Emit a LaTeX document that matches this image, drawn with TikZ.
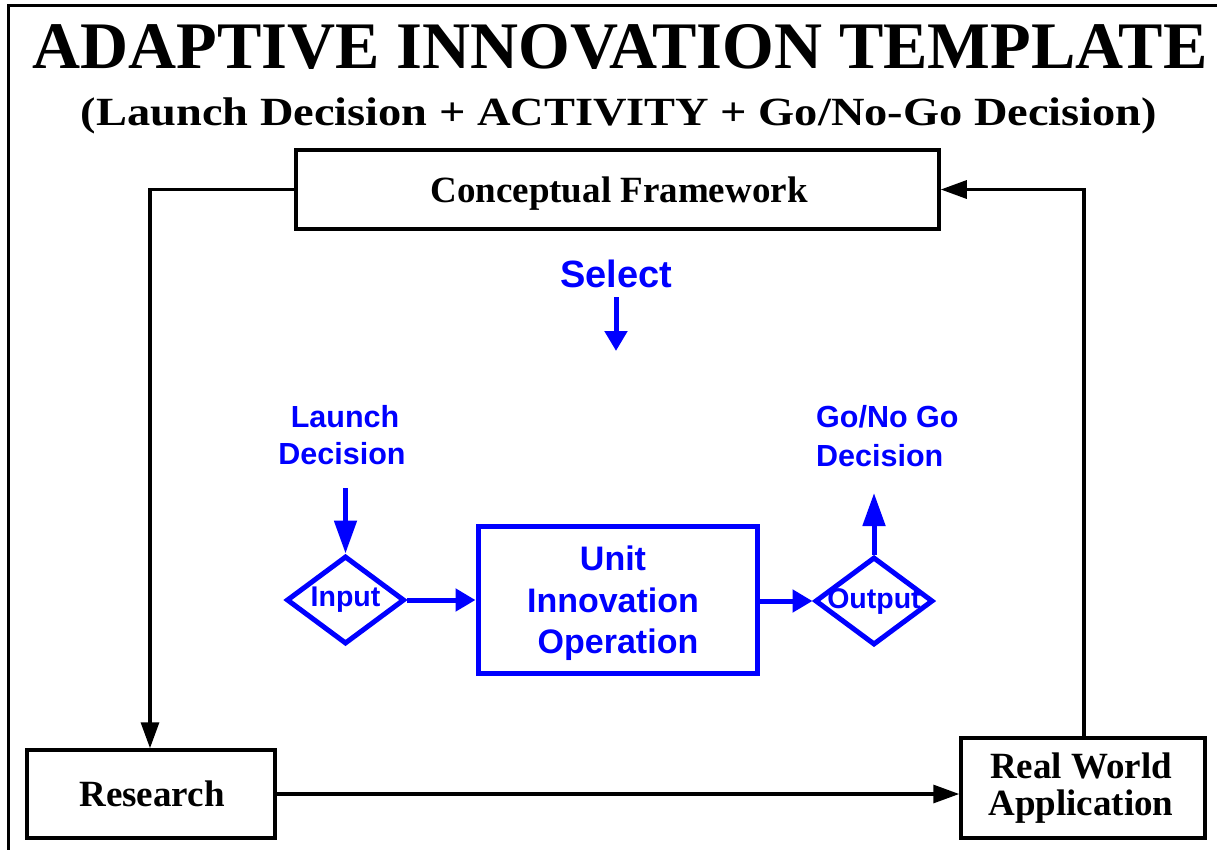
\documentclass[tikz,border=0pt]{standalone}
\usepackage{fontspec}
\setmainfont{Liberation Serif}
\newfontfamily\arialf{Liberation Sans}
\usetikzlibrary{arrows.meta,shapes.geometric}
\definecolor{pblue}{RGB}{0,0,255}
\begin{document}
\begin{tikzpicture}[x=1pt,y=-1pt,
  bbox/.style={draw=black,line width=3.5pt,fill=white,inner sep=0pt,align=center,
    font=\bfseries\fontsize{37}{37}\selectfont},
  stext/.style={anchor=base,inner sep=0pt,font=\bfseries\fontsize{37}{37}\selectfont},
  blk/.style={line width=3.2pt,-{Triangle[length=26pt,width=18pt]}},
  btext/.style={text=pblue,inner sep=0pt,font=\arialf\bfseries\fontsize{30.5}{37}\selectfont},
  dtext/.style={text=pblue,inner sep=0pt,font=\arialf\bfseries\fontsize{28.5}{30}\selectfont},
  utext/.style={text=pblue,inner sep=0pt,anchor=base,font=\arialf\bfseries\fontsize{34}{42}\selectfont},
  bshape/.style={draw=pblue,line width=5pt,fill=white},
  barrow/.style={draw=pblue,line width=5pt,-{Triangle[length=20pt,width=22pt]}},
  barrowlong/.style={draw=pblue,line width=5pt,-{Triangle[length=33pt,width=22pt]}}]
\useasboundingbox (0,0) rectangle (1217,849);
% frame
\draw[line width=3pt] (8,851) -- (8,5) -- (1219,5);
% titles
\node[anchor=base,inner sep=0pt,font=\bfseries\fontsize{66.5}{70}\selectfont] (title) at (620,68) {ADAPTIVE INNOVATION TEMPLATE};
\node[anchor=base,inner sep=0pt,font=\bfseries\fontsize{40}{44}\selectfont] (subtitle) at (619,125) {\scalebox{1.16}[1]{(Launch Decision + ACTIVITY + Go/No-Go Decision)}};
% black boxes
\node[bbox,minimum width=643pt,minimum height=79pt] (cf) at (617.5,189.5) {};
\node[stext] (cft) at (619,202) {Conceptual Framework};
\node[bbox,minimum width=248pt,minimum height=88pt] (res) at (151,794) {};
\node[stext] (rest) at (152,806) {Research};
\node[bbox,minimum width=244pt,minimum height=100pt] (rwa) at (1083,788) {};
\node[stext] (rwat1) at (1081,778) {Real World};
\node[stext] (rwat2) at (1081,815) {Application};
% black connectors
\coordinate (c1) at (150,189.5);
\coordinate (c2) at (1084,189.5);
\draw[blk] (cf.west) -- (c1) -- (res.north -| c1);
\draw[blk] (res.east) -- (res.east -| rwa.west);
\draw[blk] (rwa.north -| c2) -- (c2) -- (cf.east);
% blue part
\node[text=pblue,inner sep=0pt,anchor=base,font=\arialf\bfseries\fontsize{38}{38}\selectfont] (sel) at (616,287) {Select};
\coordinate (selstart) at (616,297);
\coordinate (selend) at (616,351);
\draw[barrow] (selstart) -- (selend);
\node[btext,anchor=base] (ld1) at (345,427) {Launch};
\node[btext,anchor=base] (ld2) at (342,464) {Decision};
\node[btext,anchor=base west] (gd1) at (816,427) {Go/No Go};
\node[btext,anchor=base west] (gd2) at (816,466) {Decision};
\node[bshape,diamond,minimum width=118pt,minimum height=88pt,inner sep=0pt] (inp) at (345.5,600) {};
\node[dtext] at (inp) {Input};
\node[bshape,minimum width=279pt,minimum height=147pt,inner sep=0pt] (uio) at (617.5,599.5) {};
\node[utext] (u1) at (613,570) {Unit};
\node[utext] (u2) at (613,612) {Innovation};
\node[utext] (u3) at (618,653) {Operation};
\node[bshape,diamond,minimum width=118pt,minimum height=88pt,inner sep=0pt] (outp) at (874,601) {};
\node[dtext] at (outp) {Output};
\coordinate (ldstart) at (345.5,488);
\coordinate (gdend) at (874,493);
\draw[barrowlong] (ldstart) -- (inp.north);
\draw[barrow] (inp.east) -- (inp.east -| uio.west);
\draw[barrow] (uio.east |- outp.west) -- (outp.west);
\draw[barrowlong] (outp.north) -- (gdend);
\end{tikzpicture}
\end{document}
